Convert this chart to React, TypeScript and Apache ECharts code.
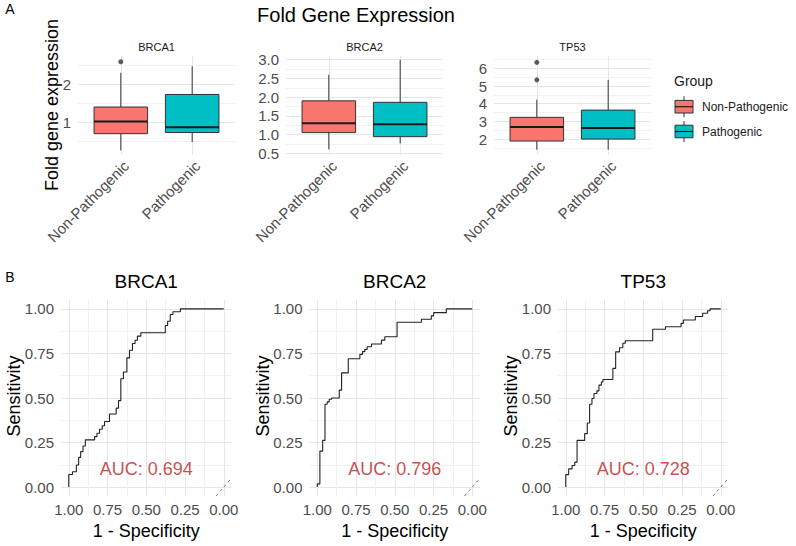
import React, { useEffect, useRef } from 'react';
import * as echarts from 'echarts';

// ---------- data ----------
const groups = ['Non-Pathogenic', 'Pathogenic'];
const genes = ['BRCA1', 'BRCA2', 'TP53'];

// boxplot five-number summaries: [lower whisker, Q1, median, Q3, upper whisker]
const brca1NonPathogenic = [0.27, 0.71, 1.03, 1.41, 2.31];
const brca1Pathogenic = [0.49, 0.74, 0.88, 1.74, 2.48];
const brca1NonPathogenicOutliers = [2.6];
const brca1PathogenicOutliers: number[] = [];

const brca2NonPathogenic = [0.6, 1.05, 1.3, 1.9, 2.6];
const brca2Pathogenic = [0.76, 0.94, 1.27, 1.86, 3.0];
const brca2NonPathogenicOutliers: number[] = [];
const brca2PathogenicOutliers: number[] = [];

const tp53NonPathogenic = [1.4, 1.89, 2.69, 3.23, 4.23];
const tp53Pathogenic = [1.4, 2.0, 2.63, 3.64, 5.35];
const tp53NonPathogenicOutliers = [5.35, 6.34];
const tp53PathogenicOutliers: number[] = [];

// y tick labels of the box panels
const brca1Ticks = [1, 2];
const brca2Ticks = [0.5, 1.0, 1.5, 2.0, 2.5, 3.0];
const tp53Ticks = [2, 3, 4, 5, 6];

// ROC curves (specificity, sensitivity)
const brca1Spec = [1, 1, 0.976, 0.951, 0.936, 0.923, 0.908, 0.893, 0.833, 0.818, 0.801, 0.784, 0.769, 0.737, 0.694, 0.679, 0.664, 0.647, 0.625, 0.608, 0.589, 0.572, 0.557, 0.535, 0.377, 0.362, 0.345, 0.328, 0.28, 0];
const brca1Sens = [0, 0.071, 0.086, 0.124, 0.167, 0.199, 0.231, 0.265, 0.283, 0.302, 0.325, 0.344, 0.368, 0.41, 0.443, 0.485, 0.608, 0.646, 0.725, 0.768, 0.806, 0.824, 0.847, 0.866, 0.907, 0.931, 0.969, 0.984, 1, 1];

const brca2Spec = [1, 1, 0.983, 0.965, 0.95, 0.936, 0.923, 0.907, 0.858, 0.843, 0.8, 0.725, 0.708, 0.693, 0.678, 0.65, 0.586, 0.564, 0.485, 0.328, 0.264, 0.249, 0.167, 0];
const brca2Sens = [0, 0.018, 0.202, 0.262, 0.465, 0.478, 0.493, 0.5, 0.544, 0.641, 0.72, 0.745, 0.76, 0.773, 0.788, 0.803, 0.825, 0.844, 0.925, 0.942, 0.961, 0.979, 1, 1];

const tp53Spec = [1, 1, 0.981, 0.959, 0.942, 0.927, 0.878, 0.861, 0.846, 0.831, 0.818, 0.799, 0.786, 0.77, 0.76, 0.696, 0.678, 0.653, 0.632, 0.616, 0.439, 0.357, 0.256, 0.241, 0.164, 0.117, 0.085, 0.069, 0];
const tp53Sens = [0, 0.07, 0.102, 0.121, 0.14, 0.262, 0.3, 0.36, 0.465, 0.497, 0.525, 0.54, 0.572, 0.59, 0.604, 0.666, 0.759, 0.782, 0.807, 0.821, 0.886, 0.9, 0.919, 0.938, 0.957, 0.976, 0.99, 1, 1];

const aucLabels = ['AUC: 0.694', 'AUC: 0.796', 'AUC: 0.728'];
const aucPosition = [0.5, 0.1];
const rocTicks = [0, 0.25, 0.5, 0.75, 1];
const chanceLine = [[0.05, -0.05], [-0.05, 0.05]];

// ---------- styling ----------
const FONT = 'Liberation Sans, Arial, Helvetica, sans-serif';
const AXIS_TEXT = '#4d4d4d';
const MAJOR = '#e6e6e6';
const MINOR = '#f1f1f1';
const NONE = 'rgba(0,0,0,0)';
const boxColors = ['#F8766D', '#00BFC4'];
const boxStroke = '#333333';

const near = (a: number, b: number) => Math.abs(a - b) < 1e-6;
const isMult = (v: number, m: number) => Math.abs(v / m - Math.round(v / m)) < 1e-6;

function gridColors(min: number, max: number, step: number, colorFor: (v: number) => string) {
  const n = Math.round((max - min) / step);
  const out: string[] = [];
  for (let i = 0; i <= n; i++) out.push(colorFor(+(min + i * step).toFixed(6)));
  return out;
}

function tickFormatter(ticks: number[], digits: number) {
  return (v: number) => {
    const t = ticks.find((x) => near(x, v));
    return t === undefined ? '' : t.toFixed(digits);
  };
}

function renderBox(params: any, api: any) {
  const x = api.value(0);
  const lo = api.coord([x, api.value(1)]);
  const q1 = api.coord([x, api.value(2)]);
  const md = api.coord([x, api.value(3)]);
  const q3 = api.coord([x, api.value(4)]);
  const hi = api.coord([x, api.value(5)]);
  const w = api.size([0.75, 0], [x, 1])[0];
  const cx = q1[0];
  return {
    type: 'group',
    children: [
      { type: 'line', shape: { x1: cx, y1: lo[1], x2: cx, y2: q1[1] }, style: { stroke: boxStroke, lineWidth: 1 } },
      { type: 'line', shape: { x1: cx, y1: q3[1], x2: cx, y2: hi[1] }, style: { stroke: boxStroke, lineWidth: 1 } },
      {
        type: 'rect',
        shape: { x: cx - w / 2, y: q3[1], width: w, height: q1[1] - q3[1] },
        style: { fill: boxColors[params.dataIndex], stroke: boxStroke, lineWidth: 1 },
      },
      { type: 'line', shape: { x1: cx - w / 2, y1: md[1], x2: cx + w / 2, y2: md[1] }, style: { stroke: '#1a1a1a', lineWidth: 2 } },
    ],
  };
}

function txt(x: number, y: number, text: string, fontSize: number, extra: any = {}) {
  return {
    type: 'text',
    x,
    y,
    rotation: extra.rotation || 0,
    style: {
      text,
      fontSize,
      fontFamily: FONT,
      fill: extra.fill || '#000000',
      align: extra.align || 'center',
      verticalAlign: 'middle',
    },
  };
}

function buildOption() {
  const boxLefts = [78, 286, 494];
  const rocLefts = [61, 309.5, 558];
  const boxData = [
    [brca1NonPathogenic, brca1Pathogenic],
    [brca2NonPathogenic, brca2Pathogenic],
    [tp53NonPathogenic, tp53Pathogenic],
  ];
  const outliers = [
    [brca1NonPathogenicOutliers, brca1PathogenicOutliers],
    [brca2NonPathogenicOutliers, brca2PathogenicOutliers],
    [tp53NonPathogenicOutliers, tp53PathogenicOutliers],
  ];
  const yRanges = [
    { min: 0.15, max: 2.75, step: 0.05, major: 1, minor: 0.5, ticks: brca1Ticks, digits: 0 },
    { min: 0.45, max: 3.1, step: 0.05, major: 0.5, minor: 0.25, ticks: brca2Ticks, digits: 1 },
    { min: 1.1, max: 6.7, step: 0.1, major: 1, minor: 0.5, ticks: tp53Ticks, digits: 0 },
  ];
  const rocSpec = [brca1Spec, brca2Spec, tp53Spec];
  const rocSens = [brca1Sens, brca2Sens, tp53Sens];

  const grid: any[] = [];
  const xAxis: any[] = [];
  const yAxis: any[] = [];
  const series: any[] = [];

  boxLefts.forEach((left, i) => {
    grid.push({ left, top: 56, width: 157, height: 99 });
    xAxis.push({
      type: 'value',
      gridIndex: i,
      min: 0.4,
      max: 2.6,
      interval: 0.2,
      axisLine: { show: false },
      axisTick: { show: false },
      axisLabel: {
        rotate: 45,
        align: 'right',
        verticalAlign: 'top',
        margin: 3,
        fontSize: 15,
        fontFamily: FONT,
        color: AXIS_TEXT,
        formatter: (v: number) => (near(v, 1) ? groups[0] : near(v, 2) ? groups[1] : ''),
      },
      splitLine: {
        show: true,
        lineStyle: { width: 1, color: gridColors(0.4, 2.6, 0.2, (v) => (near(v, 1) || near(v, 2) ? MAJOR : NONE)) },
      },
    });
    const r = yRanges[i];
    yAxis.push({
      type: 'value',
      gridIndex: i,
      min: r.min,
      max: r.max,
      interval: r.step,
      axisLine: { show: false },
      axisTick: { show: false },
      axisLabel: { fontSize: 15, fontFamily: FONT, color: AXIS_TEXT, margin: 7, formatter: tickFormatter(r.ticks, r.digits) },
      splitLine: {
        show: true,
        lineStyle: {
          width: 1,
          color: gridColors(r.min, r.max, r.step, (v) => (isMult(v, r.major) ? MAJOR : isMult(v, r.minor) ? MINOR : NONE)),
        },
      },
    });
    series.push({
      type: 'custom',
      xAxisIndex: i,
      yAxisIndex: i,
      renderItem: renderBox,
      encode: { x: 0, y: [1, 2, 3, 4, 5] },
      data: boxData[i].map((b, g) => [g + 1, ...b]),
      z: 3,
    });
    const pts: number[][] = [];
    outliers[i].forEach((list, g) => list.forEach((v) => pts.push([g + 1, v])));
    if (pts.length) {
      series.push({
        type: 'scatter',
        xAxisIndex: i,
        yAxisIndex: i,
        data: pts,
        symbolSize: 5,
        itemStyle: { color: '#333333' },
        z: 4,
      });
    }
  });

  rocLefts.forEach((left, k) => {
    const i = 3 + k;
    grid.push({ left, top: 300, width: 170.5, height: 196 });
    const rocGrid = gridColors(-0.05, 1.05, 0.025, (v) =>
      v > -1e-6 && v < 1 + 1e-6 ? (isMult(v, 0.25) ? MAJOR : isMult(v, 0.125) ? MINOR : NONE) : NONE
    );
    xAxis.push({
      type: 'value',
      gridIndex: i,
      min: -0.05,
      max: 1.05,
      interval: 0.025,
      inverse: true,
      axisLine: { show: false },
      axisTick: { show: false },
      axisLabel: { fontSize: 15, fontFamily: FONT, color: AXIS_TEXT, margin: 6, formatter: tickFormatter(rocTicks, 2) },
      splitLine: { show: true, lineStyle: { width: 1, color: rocGrid } },
    });
    yAxis.push({
      type: 'value',
      gridIndex: i,
      min: -0.05,
      max: 1.05,
      interval: 0.025,
      axisLine: { show: false },
      axisTick: { show: false },
      axisLabel: { fontSize: 15, fontFamily: FONT, color: AXIS_TEXT, margin: 7, formatter: tickFormatter(rocTicks, 2) },
      splitLine: { show: true, lineStyle: { width: 1, color: rocGrid } },
    });
    series.push({
      type: 'line',
      xAxisIndex: i,
      yAxisIndex: i,
      step: 'end',
      showSymbol: false,
      symbol: 'none',
      data: rocSpec[k].map((s, j) => [s, rocSens[k][j]]),
      lineStyle: { color: '#222222', width: 1.1 },
      z: 3,
    });
    series.push({
      type: 'line',
      xAxisIndex: i,
      yAxisIndex: i,
      showSymbol: false,
      symbol: 'none',
      data: chanceLine,
      lineStyle: { color: '#555555', width: 0.8, type: [3, 3] },
      z: 3,
    });
    series.push({
      type: 'scatter',
      xAxisIndex: i,
      yAxisIndex: i,
      data: [aucPosition],
      symbolSize: 1,
      itemStyle: { color: NONE },
      label: {
        show: true,
        position: 'inside',
        formatter: aucLabels[k],
        fontSize: 18,
        fontFamily: FONT,
        color: '#BE1E24',
      },
      z: 4,
    });
  });

  const boxCenters = boxLefts.map((l) => l + 157 / 2);
  const rocCenters = rocLefts.map((l) => l + 170.5 / 2);

  const graphic: any[] = [
    txt(10, 9, 'A', 14),
    txt(10, 277, 'B', 14),
    txt(356, 15, 'Fold Gene Expression', 20),
    txt(52, 105, 'Fold gene expression', 18, { rotation: Math.PI / 2 }),
    ...genes.map((g, i) => txt(boxCenters[i], 46.5, g, 11, { fill: '#1a1a1a' })),
    ...genes.map((g, i) => txt(rocCenters[i], 281, g, 19)),
    ...rocCenters.map((c) => txt(c, 531, '1 - Specificity', 18)),
    ...rocLefts.map((l) => txt(l - 47, 396, 'Sensitivity', 18, { rotation: Math.PI / 2 })),
    // legend
    txt(674, 81, 'Group', 14, { align: 'left', fill: '#1a1a1a' }),
  ];
  groups.forEach((g, gi) => {
    const cy = 106.7 + gi * 24.8;
    graphic.push({ type: 'line', shape: { x1: 684, y1: cy - 10.5, x2: 684, y2: cy + 10.5 }, style: { stroke: boxStroke, lineWidth: 1 } });
    graphic.push({ type: 'rect', shape: { x: 675, y: cy - 6.3, width: 18, height: 12.6 }, style: { fill: boxColors[gi], stroke: boxStroke, lineWidth: 1 } });
    graphic.push({ type: 'line', shape: { x1: 675, y1: cy, x2: 693, y2: cy }, style: { stroke: '#1a1a1a', lineWidth: 1.2 } });
    graphic.push(txt(702, cy, g, 12, { align: 'left', fill: '#1a1a1a' }));
  });

  return {
    animation: false,
    backgroundColor: '#ffffff',
    textStyle: { fontFamily: FONT },
    grid,
    xAxis,
    yAxis,
    series,
    graphic,
  };
}

export default function App() {
  const ref = useRef<HTMLDivElement>(null);
  useEffect(() => {
    if (!ref.current) return;
    const chart = echarts.init(ref.current, null, { renderer: 'svg' });
    chart.setOption(buildOption() as any);
    return () => chart.dispose();
  }, []);
  return (
    <div
      ref={ref}
      style={{ position: 'absolute', left: 0, top: 0, width: 796, height: 546, background: '#ffffff' }}
    />
  );
}
